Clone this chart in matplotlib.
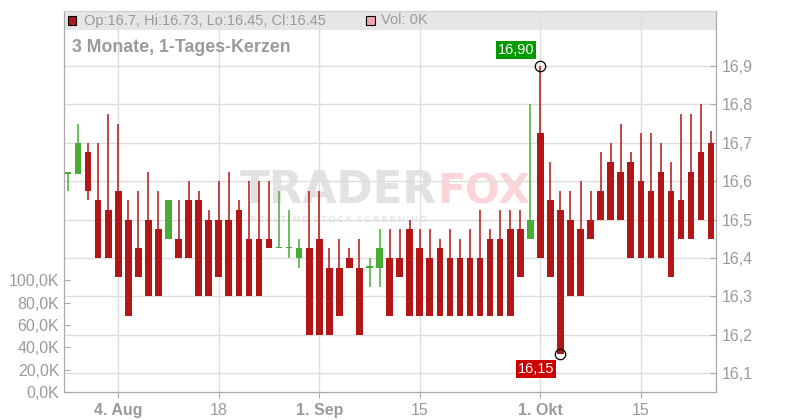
import matplotlib
matplotlib.use("Agg")
import matplotlib.pyplot as plt
from matplotlib.patches import Rectangle
from matplotlib.ticker import FuncFormatter, FixedLocator
import numpy as np
import pandas as pd

# ---------------- data ----------------
start_date = "2025-07-28"
n_days = 65
opens = [16.62, 16.62, 16.675, 16.55, 16.525, 16.575, 16.50, 16.425, 16.50, 16.475,
         16.45, 16.45, 16.55, 16.55, 16.50, 16.50, 16.50, 16.525, 16.45, 16.45,
         16.45, 16.425, 16.425, 16.40, 16.425, 16.45, 16.375, 16.375, 16.40, 16.375,
         16.375, 16.375, 16.40, 16.40, 16.475, 16.425, 16.40, 16.425, 16.40, 16.40,
         16.40, 16.40, 16.45, 16.45, 16.475, 16.475, 16.45, 16.725, 16.55, 16.525,
         16.50, 16.475, 16.50, 16.575, 16.65, 16.625, 16.65, 16.60, 16.575, 16.625,
         16.575, 16.55, 16.625, 16.675, 16.70]
highs = [16.625, 16.75, 16.70, 16.70, 16.775, 16.75, 16.55, 16.575, 16.625, 16.575,
         16.55, 16.55, 16.60, 16.575, 16.525, 16.60, 16.625, 16.55, 16.60, 16.60,
         16.60, 16.575, 16.525, 16.45, 16.575, 16.575, 16.425, 16.45, 16.425, 16.45,
         16.40, 16.475, 16.475, 16.475, 16.50, 16.475, 16.475, 16.45, 16.475, 16.45,
         16.475, 16.525, 16.475, 16.525, 16.525, 16.525, 16.80, 16.90, 16.65, 16.575,
         16.575, 16.60, 16.575, 16.675, 16.70, 16.75, 16.675, 16.725, 16.725, 16.70,
         16.65, 16.775, 16.775, 16.80, 16.73]
lows = [16.575, 16.62, 16.55, 16.40, 16.40, 16.35, 16.25, 16.35, 16.30, 16.30,
        16.45, 16.40, 16.40, 16.30, 16.30, 16.35, 16.30, 16.30, 16.30, 16.30,
        16.425, 16.425, 16.40, 16.375, 16.20, 16.20, 16.20, 16.25, 16.375, 16.20,
        16.325, 16.325, 16.25, 16.35, 16.25, 16.25, 16.25, 16.25, 16.25, 16.25,
        16.25, 16.25, 16.25, 16.25, 16.25, 16.35, 16.45, 16.40, 16.35, 16.15,
        16.30, 16.30, 16.45, 16.50, 16.50, 16.50, 16.40, 16.40, 16.40, 16.40,
        16.35, 16.45, 16.45, 16.50, 16.45]
closes = [16.625, 16.70, 16.575, 16.40, 16.40, 16.35, 16.25, 16.35, 16.30, 16.30,
          16.55, 16.40, 16.40, 16.30, 16.30, 16.35, 16.30, 16.30, 16.30, 16.30,
          16.425, 16.425, 16.425, 16.425, 16.20, 16.20, 16.20, 16.25, 16.375, 16.20,
          16.375, 16.425, 16.25, 16.35, 16.25, 16.25, 16.25, 16.25, 16.25, 16.25,
          16.25, 16.25, 16.25, 16.25, 16.25, 16.35, 16.50, 16.40, 16.35, 16.15,
          16.30, 16.30, 16.45, 16.50, 16.50, 16.50, 16.40, 16.40, 16.40, 16.40,
          16.35, 16.45, 16.45, 16.50, 16.45]
volumes = [0] * n_days

tick_dates = ["2025-08-04", "2025-08-18", "2025-09-01", "2025-09-15", "2025-10-01", "2025-10-15"]
tick_labels = ["4. Aug", "18", "1. Sep", "15", "1. Okt", "15"]
tick_bold = [True, False, True, False, True, False]
price_ticks = [16.1, 16.2, 16.3, 16.4, 16.5, 16.6, 16.7, 16.8, 16.9]
vol_ticks = [0, 20000, 40000, 60000, 80000, 100000]

title = "3 Monate, 1-Tages-Kerzen"
legend_ohlc = "Op:16.7, Hi:16.73, Lo:16.45, Cl:16.45"
legend_vol = "Vol: 0K"

# ---------------- style ----------------
RED = "#b31616"
GREEN = "#47ad33"
GRID = "#dddddd"
TXT = "#9a9a9a"
plt.rcParams['font.family'] = ['Liberation Sans', 'DejaVu Sans']

dates = pd.bdate_range(start_date, periods=n_days)
x = np.arange(n_days)
tick_pos = [int(dates.get_loc(pd.Timestamp(d))) for d in tick_dates]

fig = plt.figure(figsize=(8, 4.2), dpi=100)
fig.patch.set_facecolor("white")
L, B, W, H = 63.5 / 800, 28 / 420, 652.5 / 800, 381 / 420
axv = fig.add_axes([L, B, W, H])
axp = axv.twinx()

# volume axis (left)
axv.set_xlim(-0.45, 64.48)
axv.set_ylim(0, 341700)
axv.bar(x, volumes, width=0.66, color="#f2aab2", zorder=1)
axv.yaxis.set_major_locator(FixedLocator(vol_ticks))
axv.yaxis.set_major_formatter(FuncFormatter(lambda v, p: f"{v/1000:.1f}K".replace(".", ",")))
axv.tick_params(axis="y", direction="in", length=4, color="#aaaaaa", labelsize=11.5,
                labelcolor=TXT, pad=3)

# grey legend band + vertical grid
axv.add_patch(Rectangle((0, 1 - 19 / 381), 1, 19 / 381, transform=axv.transAxes,
                        facecolor="#e6e6e6", edgecolor="none", zorder=0.1))
axv.set_axisbelow(True)
axv.xaxis.grid(True, color=GRID, lw=1)
axv.set_xticks(tick_pos)
axv.set_xticklabels(tick_labels)
for lab, b in zip(axv.get_xticklabels(), tick_bold):
    lab.set_fontweight("bold" if b else "normal")
axv.tick_params(axis="x", direction="out", length=4, color="#aaaaaa", labelsize=11.5,
                labelcolor=TXT, pad=4)

# watermark
axv.text((240 - 63.5) / 652.5, (392 - 203) / 381, "TRADER", transform=axv.transAxes,
         fontsize=31.5, fontweight="bold", family="DejaVu Sans", color="#e2e2e2",
         ha="left", va="baseline", zorder=0.2)
axv.text((530 - 63.5) / 652.5, (392 - 203) / 381, "FOX", transform=axv.transAxes,
         fontsize=29.5, fontweight="bold", family="DejaVu Sans", color="#fcd5da",
         ha="right", va="baseline", zorder=0.2)
axv.text((250 - 63.5) / 652.5, (392 - 219) / 381, " ".join("REALTIME") + "  " +
         " ".join("STOCK") + "  " + " ".join("SCREENING"),
         transform=axv.transAxes, fontsize=6.2, color="#dcdcdc", ha="left", va="center",
         zorder=0.2)

for s in ["left", "right", "bottom"]:
    axv.spines[s].set_color("#aaaaaa")
axv.spines["top"].set_color("#d0d0d0")

# price axis (right)
axp.set_ylim(16.0510, 17.0432)
axp.yaxis.set_major_locator(FixedLocator(price_ticks))
axp.yaxis.set_major_formatter(FuncFormatter(lambda v, p: f"{v:.1f}".replace(".", ",")))
axp.tick_params(axis="y", direction="in", length=4, color="#aaaaaa", labelsize=11.5,
                labelcolor=TXT, pad=4)
axp.set_axisbelow(True)
axp.yaxis.grid(True, color=GRID, lw=1)
for s in ["left", "right", "bottom"]:
    axp.spines[s].set_color("#aaaaaa")
axp.spines["top"].set_color("#d0d0d0")

o = np.array(opens); h = np.array(highs); l = np.array(lows); c = np.array(closes)
up = c >= o
cols = np.where(up, GREEN, RED)
axp.vlines(x, l, h, colors=cols, lw=1.1, zorder=2)
body_bottom = np.minimum(o, c)
body_h = np.maximum(np.abs(c - o), 0.003)
axp.bar(x, body_h, bottom=body_bottom, width=0.66, color=cols, edgecolor="none", zorder=3)

# high / low markers
ih = int(np.argmax(h)); il = int(np.argmin(l))
axp.plot([ih], [h[ih]], "o", mfc="none", mec="black", ms=7.5, mew=0.9, zorder=5)
axp.plot([il], [l[il]], "o", mfc="none", mec="black", ms=7.5, mew=0.9, zorder=5)
fmt = lambda v: f"{v:.2f}".replace(".", ",")
axp.annotate(fmt(h[ih]), (ih, h[ih]), xytext=(-6, 9), textcoords="offset pixels",
             ha="right", va="bottom", fontsize=10.5, color="white", zorder=6,
             bbox=dict(boxstyle="square,pad=0.12", fc="#009a00", ec="none"))
axp.annotate(fmt(l[il]), (il, l[il]), xytext=(-6, -8), textcoords="offset pixels",
             ha="right", va="top", fontsize=10.5, color="white", zorder=6,
             bbox=dict(boxstyle="square,pad=0.12", fc="#cc0000", ec="none"))

# legend in band
fig.patches.append(Rectangle((68 / 800, (420 - 25) / 420), 8 / 800, 9 / 420,
                             transform=fig.transFigure, facecolor=RED, edgecolor="black",
                             lw=0.8))
fig.text(84 / 800, (420 - 20.5) / 420, legend_ohlc, fontsize=10.5, color=TXT,
         ha="left", va="center")
fig.patches.append(Rectangle((366 / 800, (420 - 25) / 420), 9 / 800, 9 / 420,
                             transform=fig.transFigure, facecolor="#f0a8b0",
                             edgecolor="black", lw=0.8))
fig.text(381 / 800, (420 - 20.5) / 420, legend_vol, fontsize=10.5, color=TXT,
         ha="left", va="center")
fig.text(72 / 800, (420 - 47.5) / 420, title, fontsize=12.8, fontweight="bold",
         color=TXT, ha="left", va="center")

fig.savefig("out.png", dpi=100)
